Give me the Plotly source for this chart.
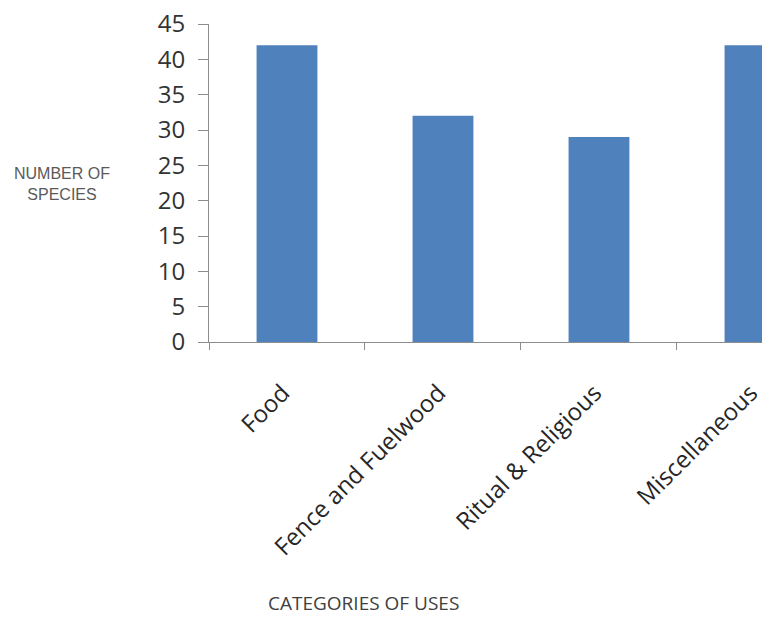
import plotly.graph_objects as go

categories = ["Food", "Fence and Fuelwood", "Ritual & Religious", "Miscellaneous"]
species_counts = [42, 32, 29, 42]
y_ticks = list(range(0, 50, 5))

W, H = 762, 618
L, T, B = 209, 24, 276

fig = go.Figure(go.Bar(x=categories, y=species_counts, marker_color="#4F81BD",
                       marker_line_width=0))

fig.update_layout(
    width=W, height=H,
    margin=dict(l=L, r=0, t=T, b=B, autoexpand=False),
    paper_bgcolor="white", plot_bgcolor="white",
    bargap=0.61, showlegend=False,
    xaxis=dict(range=[-0.5, 3.045], showline=True, linecolor="#8c8c8c", linewidth=1,
               ticks="outside", tickson="boundaries", ticklen=7, tickcolor="#8c8c8c",
               tickangle=-45, ticklabelstandoff=22, automargin=False,
               tickvals=categories, ticktext=[c + "\u00a0" for c in categories],
               tickfont=dict(family="Open Sans", size=24, color="#262626"),
               showgrid=False, zeroline=False),
    yaxis=dict(range=[0, 45], tickvals=y_ticks, showline=True, linecolor="#8c8c8c",
               linewidth=1, ticks="outside", ticklen=10, tickcolor="#8c8c8c",
               ticklabelstandoff=8, automargin=False,
               tickfont=dict(family="Open Sans", size=24, color="#333333"),
               showgrid=False, zeroline=False),
    annotations=[
        dict(text="NUMBER OF<br>SPECIES", xref="paper", yref="paper",
             x=(62 - L) / (W - L), y=1 - (184 - T) / (H - T - B),
             showarrow=False, xanchor="center", yanchor="middle",
             font=dict(family="Liberation Sans", size=16, color="#5a5a5a")),
        dict(text="CATEGORIES OF USES", xref="paper", yref="paper",
             x=(363 - L) / (W - L), y=1 - (603 - T) / (H - T - B),
             showarrow=False, xanchor="center", yanchor="middle",
             font=dict(family="Open Sans", size=19, color="#404040")),
    ],
)

fig.write_html("out.html")
